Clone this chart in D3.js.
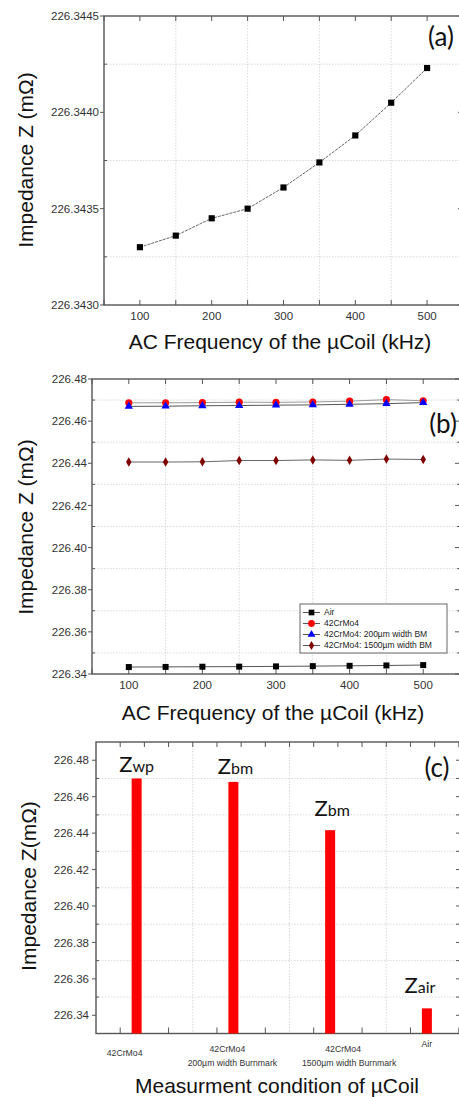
<!DOCTYPE html>
<html><head><meta charset="utf-8">
<script src="https://cdn.jsdelivr.net/npm/d3@7"></script>
<style>
html,body{margin:0;padding:0;background:#fff;}
svg{display:block;font-family:"Liberation Sans",Arial,sans-serif;}
</style></head><body>
<svg id="fig" width="459" height="1097"></svg>
<script>
// ---- data ----
const freqs = [100, 150, 200, 250, 300, 350, 400, 450, 500];           // kHz
const zAir    = [226.34330, 226.34336, 226.34345, 226.34350, 226.34361, 226.34374, 226.34388, 226.34405, 226.34423];
const zCrMo   = [226.4687, 226.4687, 226.4688, 226.4690, 226.4689, 226.4691, 226.4695, 226.4702, 226.4697];
const zBm200  = [226.4670, 226.4671, 226.4673, 226.4674, 226.4676, 226.4677, 226.4680, 226.4683, 226.4688];
const zBm1500 = [226.4406, 226.4406, 226.4407, 226.4413, 226.4413, 226.4416, 226.4414, 226.4420, 226.4418];

const freqTicks = [100, 200, 300, 400, 500];
const yTicksA = [226.3430, 226.3435, 226.3440, 226.3445];
const yTicksB = [226.34, 226.36, 226.38, 226.40, 226.42, 226.44, 226.46, 226.48];
const yTicksC = [226.34, 226.36, 226.38, 226.40, 226.42, 226.44, 226.46, 226.48];

const legendNames = ["Air", "42CrMo4", "42CrMo4: 200\u00b5m width BM", "42CrMo4: 1500\u00b5m width BM"];

const conditions = ["42CrMo4", "42CrMo4 200\u00b5m", "42CrMo4 1500\u00b5m", "Air"];
const conditionLabels = [["42CrMo4"], ["42CrMo4", "200\u00b5m width Burnmark"], ["42CrMo4", "1500\u00b5m width Burnmark"], ["Air"]];
const conditionZ = [226.4700, 226.4681, 226.4416, 226.3438];   // mOhm, averaged over frequency
const zSubscripts = ["wp", "bm", "bm", "air"];

// ---- layout helpers ----
const svg = d3.select("#fig");
svg.append("rect").attr("width", 459).attr("height", 1097).attr("fill", "#fff");

const AXIS = "#555", GRID = "#cfcfcf", TXT = "#333";

function hTick(g, x, y, len) {
  g.append("line").attr("x1", x).attr("x2", x + len).attr("y1", y).attr("y2", y)
    .attr("stroke", AXIS).attr("stroke-width", 1);
}
function vTick(g, x, y, len) {
  g.append("line").attr("x1", x).attr("x2", x).attr("y1", y).attr("y2", y + len)
    .attr("stroke", AXIS).attr("stroke-width", 1);
}
function grid(g, x1, y1, x2, y2) {
  g.append("line").attr("x1", x1).attr("y1", y1).attr("x2", x2).attr("y2", y2)
    .attr("stroke", GRID).attr("stroke-width", 0.8).attr("stroke-dasharray", "1.5,1.5");
}
function frame(g, l, t, r, b) {
  g.append("rect").attr("x", l).attr("y", t).attr("width", r - l).attr("height", b - t)
    .attr("fill", "none").attr("stroke", AXIS).attr("stroke-width", 1.4);
}
function yTitle(g, x, y, text) {
  g.append("text").attr("transform", `translate(${x},${y}) rotate(-90)`)
    .attr("text-anchor", "middle").attr("font-size", 21).attr("fill", "#111").text(text);
}
function xTitle(g, x, y, text) {
  g.append("text").attr("x", x).attr("y", y).attr("text-anchor", "middle")
    .attr("font-size", 21).attr("fill", "#111").text(text);
}
function panelTag(g, x, y, text) {
  g.append("text").attr("x", x).attr("y", y).attr("text-anchor", "middle")
    .attr("font-family", "Lato, 'Open Sans', sans-serif").attr("font-size", 26).attr("fill", "#111").text(text);
}

// frequency-axis frame shared by panels (a) and (b)
function freqFrame(g, x, y, yMajor, yMinor, fmt) {
  const [l, r] = x.range(), [b, t] = y.range();
  const steps = d3.range(50, 551, 50);
  [150, 250, 350, 450].forEach(f => grid(g, x(f), t, x(f), b));
  yMinor.forEach(v => grid(g, l, y(v), r, y(v)));
  frame(g, l, t, r, b);
  steps.forEach(f => { vTick(g, x(f), t, 5); vTick(g, x(f), b, -5); });
  yMajor.forEach(v => { hTick(g, l, y(v), -4); hTick(g, r, y(v), -5); });
  yMinor.forEach(v => { hTick(g, l, y(v), 3); hTick(g, r, y(v), -3); });
  g.selectAll(null).data(yMajor).join("text")
    .attr("x", l - 5).attr("y", d => y(d)).attr("dy", "0.36em").attr("text-anchor", "end")
    .attr("font-size", 11.5).attr("fill", TXT).text(fmt);
  g.selectAll(null).data(freqTicks).join("text")
    .attr("x", d => x(d)).attr("y", b + 15).attr("text-anchor", "middle")
    .attr("font-size", 11.5).attr("fill", TXT).text(d => d);
}

// ---- (a) impedance in air vs frequency ----
{
  const g = svg.append("g");
  const x = d3.scaleLinear().domain([50, 550]).range([104, 463]);
  const y = d3.scaleLinear().domain([226.3430, 226.3445]).range([305, 16]);
  freqFrame(g, x, y, yTicksA, [226.34325, 226.34375, 226.34425], d3.format(".4f"));
  const pts = freqs.map((f, i) => [f, zAir[i]]);
  g.append("path").datum(pts)
    .attr("d", d3.line().x(d => x(d[0])).y(d => y(d[1])))
    .attr("fill", "none").attr("stroke", "#666").attr("stroke-width", 1).attr("stroke-dasharray", "3,1");
  g.selectAll(null).data(pts).join("path")
    .attr("transform", d => `translate(${x(d[0])},${y(d[1])})`)
    .attr("d", d3.symbol(d3.symbolSquare, 38)()).attr("fill", "#000");
  yTitle(g, 33, 160, "Impedance Z (m\u03a9)");
  xTitle(g, 280, 349, "AC Frequency of the \u00b5Coil (kHz)");
  panelTag(g, 441, 46, "(a)");
}

// ---- (b) all measurement conditions vs frequency ----
{
  const g = svg.append("g");
  const x = d3.scaleLinear().domain([50, 550]).range([92, 460]);
  const y = d3.scaleLinear().domain([226.34, 226.48]).range([674, 379]);
  freqFrame(g, x, y, yTicksB, [226.35, 226.37, 226.39, 226.41, 226.43, 226.45, 226.47], d3.format(".2f"));

  const series = [
    { name: legendNames[0], z: zAir,    color: "#000000", sym: d3.symbolSquare,   size: 36, line: "#555" },
    { name: legendNames[1], z: zCrMo,   color: "#ff0000", sym: d3.symbolCircle,   size: 40, line: "#999" },
    { name: legendNames[2], z: zBm200,  color: "#0000ff", sym: d3.symbolTriangle, size: 30, line: "#555" },
    { name: legendNames[3], z: zBm1500, color: "#800000", sym: d3.symbolDiamond,  size: 26, line: "#666" }
  ];
  const line = d3.line().x(d => x(d[0])).y(d => y(d[1]));
  series.forEach(s => {
    const pts = freqs.map((f, i) => [f, s.z[i]]);
    g.append("path").datum(pts).attr("d", line)
      .attr("fill", "none").attr("stroke", s.line).attr("stroke-width", 1);
  });
  series.forEach(s => {
    const pts = freqs.map((f, i) => [f, s.z[i]]);
    g.selectAll(null).data(pts).join("path")
      .attr("transform", d => `translate(${x(d[0])},${y(d[1])})`)
      .attr("d", d3.symbol(s.sym, s.size)()).attr("fill", s.color);
  });

  // legend
  const lg = g.append("g").attr("transform", "translate(300,604)");
  lg.append("rect").attr("width", 147).attr("height", 49)
    .attr("fill", "#fff").attr("stroke", "#555").attr("stroke-width", 0.9);
  series.forEach((s, i) => {
    const yy = 8.5 + i * 11;
    lg.append("line").attr("x1", 3).attr("x2", 20).attr("y1", yy).attr("y2", yy)
      .attr("stroke", "#444").attr("stroke-width", 0.9);
    lg.append("path").attr("transform", `translate(11.5,${yy})`)
      .attr("d", d3.symbol(s.sym, s.size * 0.9)()).attr("fill", s.color);
    lg.append("text").attr("x", 24).attr("y", yy).attr("dy", "0.35em")
      .attr("font-size", 8.5).attr("fill", "#222").text(s.name);
  });

  yTitle(g, 33, 527, "Impedance Z (m\u03a9)");
  xTitle(g, 273, 720, "AC Frequency of the \u00b5Coil (kHz)");
  panelTag(g, 443, 433, "(b)");
}

// ---- (c) impedance per measurement condition ----
{
  const g = svg.append("g");
  const x = d3.scaleBand().domain(conditions).range([96, 483]);
  const y = d3.scaleLinear().domain([226.33, 226.49]).range([1033.5, 742]);
  const l = 96, r = 462, t = 742, b = 1033.5, bw = x.bandwidth();
  const minors = [226.35, 226.37, 226.39, 226.41, 226.43, 226.45, 226.47];
  const barPos = d => x(d) + 0.42 * bw;

  conditions.slice(1).forEach(c => grid(g, x(c), t, x(c), b));
  minors.forEach(v => grid(g, l, y(v), r, y(v)));
  frame(g, l, t, r, b);
  d3.range(0.25, 3.8, 0.25).forEach(k => vTick(g, l + k * bw, t, 5));
  d3.range(0.25, 3.8, 0.5).forEach(k => vTick(g, l + k * bw, b, -6));
  yTicksC.forEach(v => { hTick(g, l, y(v), -4); hTick(g, r, y(v), -6); });
  minors.forEach(v => { hTick(g, l, y(v), 3); hTick(g, r, y(v), -6); });
  g.selectAll(null).data(yTicksC).join("text")
    .attr("x", l - 7).attr("y", d => y(d)).attr("dy", "0.36em").attr("text-anchor", "end")
    .attr("font-size", 11.5).attr("fill", TXT).text(d3.format(".2f"));

  g.selectAll(null).data(conditions).join("rect")
    .attr("x", d => barPos(d) - 5).attr("width", 10)
    .attr("y", (d, i) => y(conditionZ[i])).attr("height", (d, i) => b - y(conditionZ[i]))
    .attr("fill", "#ff0000");

  // Z labels above each bar
  const zShift = [[0, -6], [2, -8], [2, -14], [-7, -15]];
  conditions.forEach((c, i) => {
    const tx = g.append("text").attr("x", barPos(c) + zShift[i][0]).attr("y", y(conditionZ[i]) + zShift[i][1])
      .attr("text-anchor", "middle").attr("font-family", "Lato, 'Open Sans', sans-serif").attr("fill", "#111");
    tx.append("tspan").attr("font-size", 22).text("Z");
    tx.append("tspan").attr("font-size", 16).text(zSubscripts[i]);
  });

  // category labels
  const labelShift = [[-12, -12], [-6, -1], [13, 19], [0, 0]];
  const labelBase = [1056, 1052, 1052, 1047];
  conditions.forEach((c, i) => {
    conditionLabels[i].forEach((txt, j) => {
      g.append("text").attr("x", barPos(c) + labelShift[i][j]).attr("y", labelBase[i] + j * 14)
        .attr("text-anchor", "middle").attr("font-size", 8.7).attr("fill", "#333").text(txt);
    });
  });

  yTitle(g, 36, 886, "Impedance Z(m\u03a9)");
  xTitle(g, 277, 1093, "Measurment condition of \u00b5Coil");
  panelTag(g, 437, 777, "(c)");
}
</script>
</body></html>
